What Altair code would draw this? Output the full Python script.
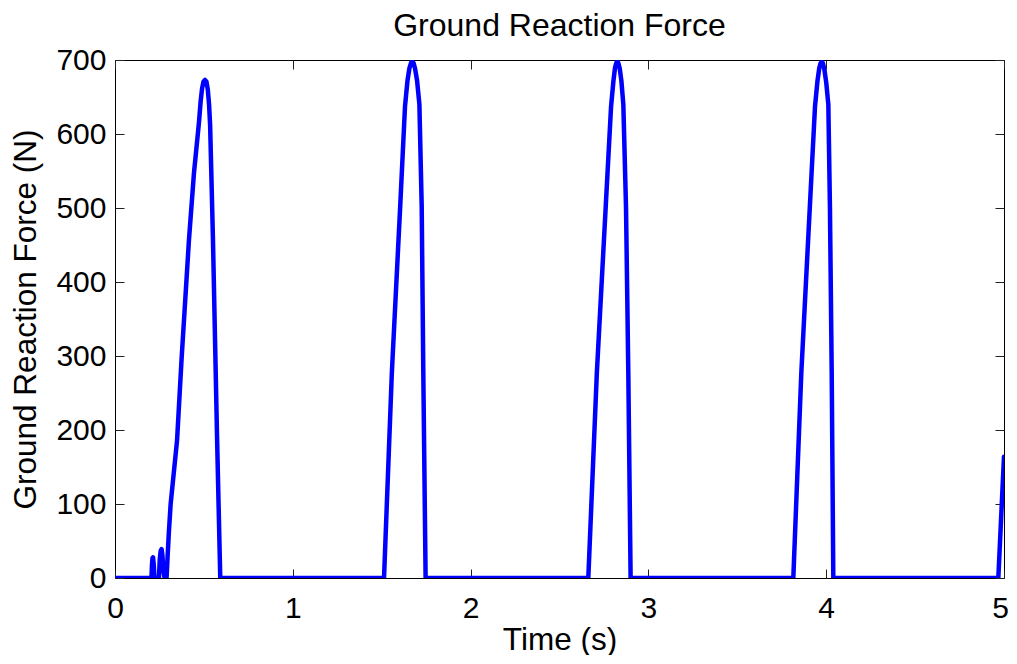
import altair as alt
import pandas as pd

# Time (s) and ground reaction force (N)
time_s = [
    0.0, 0.205, 0.208, 0.211, 0.214, 0.218, 0.222, 0.247, 0.252, 0.257, 0.262,
    0.267, 0.272, 0.279, 0.290, 0.296, 0.303, 0.313, 0.349, 0.375, 0.416,
    0.444, 0.472, 0.482, 0.490, 0.498, 0.506, 0.514, 0.522, 0.529, 0.535,
    0.551, 0.574, 0.592,
    1.513, 1.557, 1.604, 1.631, 1.645, 1.656, 1.665, 1.672, 1.679, 1.688,
    1.699, 1.712, 1.725, 1.734, 1.747,
    2.662, 2.710, 2.760, 2.790, 2.803, 2.812, 2.819, 2.825, 2.831, 2.839,
    2.848, 2.859, 2.874, 2.887, 2.900,
    3.815, 3.860, 3.908, 3.937, 3.951, 3.961, 3.969, 3.975, 3.981, 3.990,
    4.000, 4.012, 4.021, 4.031, 4.040,
    4.968, 5.0,
]
force_n = [
    0, 0, 18, 27, 28, 18, 0, 0, 26, 37, 39,
    30, 10, 0, 0, 30, 62, 100, 186, 298, 457,
    547, 615, 645, 662, 671, 673, 671, 660, 640, 612,
    457, 190, 0,
    0, 277, 502, 637, 672, 689, 696, 698, 696, 688,
    672, 640, 502, 277, 0,
    0, 277, 502, 637, 671, 689, 696, 698, 696, 688,
    672, 640, 502, 277, 0,
    0, 277, 502, 637, 672, 689, 696, 698, 696, 687,
    670, 640, 502, 277, 0,
    0, 164,
]

x_ticks = [0, 1, 2, 3, 4, 5]
y_ticks = [0, 100, 200, 300, 400, 500, 600, 700]

df = pd.DataFrame({"t": time_s, "f": force_n})

FONT = "Liberation Sans"
x_scale = alt.Scale(domain=[0, 5], nice=False, zero=False)
y_scale = alt.Scale(domain=[0, 700], nice=False)

base = alt.Chart(df)

main = base.mark_line(color="#0000FF", strokeWidth=4.5, clip=True,
                      strokeJoin="round", strokeCap="round").encode(
    x=alt.X("t:Q", scale=x_scale, title="Time (s)",
            axis=alt.Axis(orient="bottom", values=x_ticks, ticks=False, tickSize=0,
                          domain=False, grid=False, labelPadding=15, titlePadding=1,
                          labelFlush=False,
                          labelOffset={"condition": {"test": "datum.value == 5", "value": -4},
                                       "value": 0})),
    y=alt.Y("f:Q", scale=y_scale, title="Ground Reaction Force (N)",
            axis=alt.Axis(orient="left", values=y_ticks, ticks=False, tickSize=0,
                          domain=False, grid=False, labelPadding=9, titlePadding=13,
                          labelFlush=False)),
)

ticks_bl = base.mark_line(strokeOpacity=0).encode(
    x=alt.X("t:Q", scale=x_scale, title=None,
            axis=alt.Axis(orient="bottom", values=x_ticks, labels=False, ticks=True,
                          tickSize=9, offset=-9, domain=False, grid=False,
                          tickColor="#222222")),
    y=alt.Y("f:Q", scale=y_scale, title=None,
            axis=alt.Axis(orient="left", values=y_ticks, labels=False, ticks=True,
                          tickSize=9, offset=-9, domain=False, grid=False,
                          tickColor="#222222")),
)

ticks_tr = base.mark_line(strokeOpacity=0).encode(
    x=alt.X("t:Q", scale=x_scale, title=None,
            axis=alt.Axis(orient="top", values=x_ticks, labels=False, ticks=True,
                          tickSize=9, offset=-9, domain=False, grid=False,
                          tickColor="#222222")),
    y=alt.Y("f:Q", scale=y_scale, title=None,
            axis=alt.Axis(orient="right", values=y_ticks, labels=False, ticks=True,
                          tickSize=9, offset=-9, domain=False, grid=False,
                          tickColor="#222222")),
)

chart = (
    alt.layer(ticks_bl, ticks_tr, main)
    .resolve_axis(x="independent", y="independent")
    .properties(
        width=889,
        height=518,
        background="white",
        autosize=alt.AutoSizeParams(type="none"),
        padding={"left": 107, "top": 52, "right": 5, "bottom": 77},
        title=alt.TitleParams("Ground Reaction Force", font=FONT, fontSize=32,
                              fontWeight="normal", color="black", offset=2,
                              anchor="middle", frame="group"),
    )
    .configure_view(stroke="black", strokeWidth=1)
    .configure_axis(labelFont=FONT, titleFont=FONT, labelFontSize=30,
                    titleFontSize=31.5, titleFontWeight="normal",
                    labelColor="black", titleColor="black")
)

chart.save("out.html", embed_options={"renderer": "svg", "actions": False})
